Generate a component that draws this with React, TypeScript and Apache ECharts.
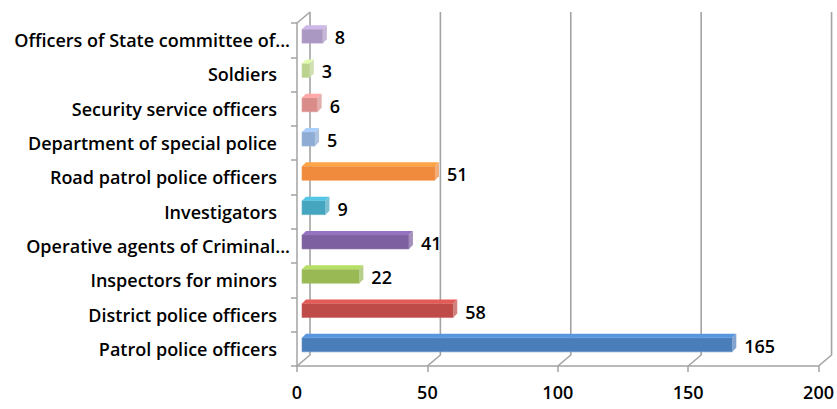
import React, { useEffect, useRef } from "react";
import * as echarts from "echarts";

// bottom-to-top order (ECharts category axis starts at the bottom)
const categories = [
  "Patrol police officers",
  "District police officers",
  "Inspectors for minors",
  "Operative agents of Criminal...",
  "Investigators",
  "Road patrol police officers",
  "Department of special police",
  "Security service officers",
  "Soldiers",
  "Officers of State committee of...",
];
const values = [165, 58, 22, 41, 9, 51, 5, 6, 3, 8];
const barColors = [
  "#4a7ebb",
  "#be4b48",
  "#98b954",
  "#7d60a0",
  "#46a5bf",
  "#f08a3c",
  "#8eacd4",
  "#d98c8a",
  "#bcd38f",
  "#ab98c2",
];
const xTicks = [0, 50, 100, 150, 200];

const FONT = "'Open Sans'";
const FS = 18;
const WALL_DX = 13;
const WALL_DY = -11;
const GRID_COLOR = "#a3a3a3";

export default function App() {
  const ref = useRef<HTMLDivElement>(null);
  useEffect(() => {
    document.body.style.margin = "0";
    if (!ref.current) return;
    const chart = echarts.init(ref.current, undefined, { renderer: "svg" });
    const labelStyle = {
      fontFamily: FONT,
      fontSize: FS,
      fontWeight: 600,
      color: "#000",
    };
    const option: any = {
      animation: false,
      backgroundColor: "#ffffff",
      grid: { left: 297, right: 16, top: 23, bottom: 43, containLabel: false },
      xAxis: {
        type: "value",
        min: 0,
        max: 200,
        interval: 50,
        axisLine: { show: true, lineStyle: { color: GRID_COLOR, width: 1.5 } },
        axisTick: { show: true, length: 6, lineStyle: { color: GRID_COLOR, width: 1.5 } },
        splitLine: { show: false },
        axisLabel: { margin: 17, ...labelStyle },
      },
      yAxis: {
        type: "category",
        data: categories,
        axisLine: { show: true, lineStyle: { color: GRID_COLOR, width: 1.5 } },
        axisTick: { show: true, length: 6, lineStyle: { color: GRID_COLOR, width: 1.5 } },
        axisLabel: {
          margin: 7,
          ...labelStyle,
          formatter: (s: string) => (s.endsWith("...") ? `{e|${s}}` : `{n|${s}}`),
          rich: {
            e: { ...labelStyle },
            n: { ...labelStyle, padding: [0, 13, 0, 0] },
          },
        },
      },
      series: [
        {
          type: "custom",
          z: 1,
          silent: true,
          encode: { x: 0, y: 1 },
          data: xTicks.map((t) => [t, 0]),
          renderItem: (params: any, api: any) => {
            const cs = params.coordSys;
            const x = api.coord([api.value(0), 0])[0];
            const bottom = cs.y + cs.height;
            const top = cs.y;
            const children: any[] = [
              {
                type: "polyline",
                shape: {
                  points: [
                    [x, bottom],
                    [x + WALL_DX, bottom + WALL_DY],
                    [x + WALL_DX, top + WALL_DY],
                  ],
                },
                style: { stroke: GRID_COLOR, lineWidth: 1.6, fill: null },
              },
            ];
            if (params.dataIndex === 0) {
              children.push({
                type: "line",
                shape: { x1: x, y1: top, x2: x + WALL_DX, y2: top + WALL_DY },
                style: { stroke: GRID_COLOR, lineWidth: 1.5 },
              });
            }
            return { type: "group", children };
          },
        },
        {
          type: "custom",
          z: 3,
          encode: { x: 0, y: 1 },
          data: values.map((v, i) => [v, i]),
          renderItem: (params: any, api: any) => {
            const v = api.value(0);
            const i = api.value(1);
            const p0 = api.coord([0, i]);
            const p1 = api.coord([v, i]);
            const h = 14;
            const dx = 4;
            const dy = -4;
            const sx = 5;
            const cy = p0[1] - 4;
            const x0 = p0[0] + sx;
            const x1 = p1[0] + sx;
            const yT = cy - h / 2;
            const yB = cy + h / 2;
            const c = barColors[params.dataIndex];
            const light = echarts.color.lift(c, -0.2);
            const dark = echarts.color.lift(c, 0.3);
            return {
              type: "group",
              children: [
                {
                  type: "rect",
                  shape: { x: x0, y: yT, width: Math.max(x1 - x0, 1), height: h },
                  style: {
                    fill: c,
                    stroke: echarts.color.lift(c, 0.15),
                    lineWidth: 0.6,
                  },
                },
                {
                  type: "polygon",
                  shape: {
                    points: [
                      [x0, yT],
                      [x0 + dx, yT + dy],
                      [x1 + dx, yT + dy],
                      [x1, yT],
                    ],
                  },
                  style: { fill: light },
                },
                {
                  type: "polygon",
                  shape: {
                    points: [
                      [x1, yT],
                      [x1 + dx, yT + dy],
                      [x1 + dx, yB + dy],
                      [x1, yB],
                    ],
                  },
                  style: { fill: dark },
                },
                {
                  type: "text",
                  style: {
                    x: x1 + dx + 8,
                    y: cy + 1,
                    text: String(v),
                    fill: "#000",
                    font: `600 ${FS}px ${FONT}`,
                    verticalAlign: "middle",
                    align: "left",
                  },
                },
              ],
            };
          },
        },
      ],
    };
    chart.setOption(option);
    return () => chart.dispose();
  }, []);
  return <div ref={ref} style={{ width: 837, height: 409 }} />;
}
